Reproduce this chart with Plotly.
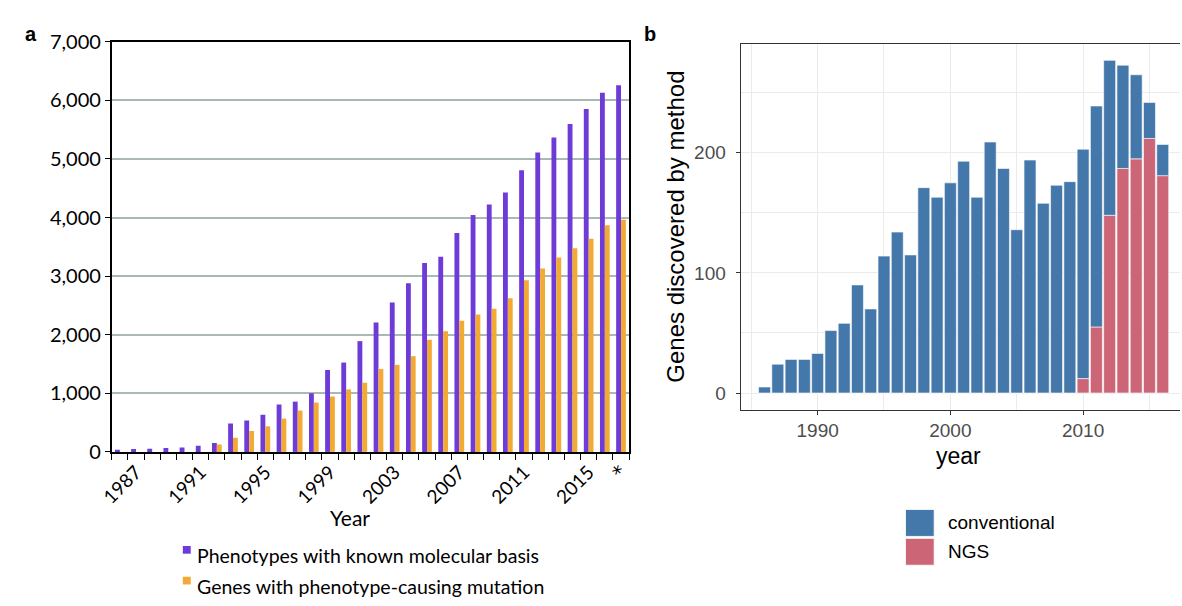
import plotly.graph_objects as go

# ---- panel a: cumulative OMIM counts per year ----
categories_a = [str(y) for y in range(1986, 2017)] + ["*"]
shown_labels_a = ["1987", "1991", "1995", "1999", "2003", "2007", "2011", "2015", "*"]
phenotypes = [38, 49, 55, 66, 77, 104, 153, 486, 536, 634, 809, 858, 1000, 1399,
              1525, 1891, 2208, 2552, 2880, 3224, 3333, 3738, 4044, 4224, 4426,
              4809, 5109, 5366, 5596, 5852, 6131, 6257]
genes = [0, 0, 0, 0, 0, 0, 126, 240, 355, 437, 568, 705, 842, 945, 1066, 1180,
         1415, 1486, 1634, 1913, 2060, 2240, 2344, 2443, 2623, 2929, 3131, 3317,
         3475, 3639, 3869, 3962]
y_ticks_a = [0, 1000, 2000, 3000, 4000, 5000, 6000, 7000]

# ---- panel b: genes discovered per year by method ----
years_b = list(range(1986, 2017))
conventional = [5, 24, 28, 28, 33, 52, 58, 90, 70, 114, 134, 115, 171, 163, 175,
                193, 163, 209, 187, 136, 194, 158, 173, 176, 191, 184, 129, 86,
                70, 30, 26]
ngs = [0, 0, 0, 0, 0, 0, 0, 0, 0, 0, 0, 0, 0, 0, 0, 0, 0, 0, 0, 0, 0, 0, 0, 0,
       12, 55, 148, 187, 195, 212, 181]

W, H = 1182, 606
PURPLE, ORANGE = "#6E3AD8", "#F2AA33"
BLUE, RED = "#4477AA", "#CC6677"
FONT_A = "Lato"
FONT_B = "Liberation Sans, Arial, sans-serif"


def px(x):
    return x / W


def py(y):
    return 1 - y / H


fig = go.Figure()

fig.add_trace(go.Bar(
    x=categories_a, y=phenotypes, name="Phenotypes with known molecular basis",
    marker=dict(color=PURPLE, line=dict(width=0)), width=0.3, offset=-0.3,
    xaxis="x", yaxis="y", showlegend=False))
fig.add_trace(go.Bar(
    x=categories_a, y=genes, name="Genes with phenotype-causing mutation",
    marker=dict(color=ORANGE, line=dict(width=0)), width=0.3, offset=0.0,
    xaxis="x", yaxis="y", showlegend=False))

fig.add_trace(go.Bar(
    x=years_b, y=ngs, name="NGS", base=0,
    marker=dict(color=RED, line=dict(color="white", width=0.6)), width=0.9,
    xaxis="x2", yaxis="y2", showlegend=False))
fig.add_trace(go.Bar(
    x=years_b, y=conventional, name="conventional", base=ngs,
    marker=dict(color=BLUE, line=dict(color="white", width=0.6)), width=0.9,
    xaxis="x2", yaxis="y2", showlegend=False))


def tick_label(c):
    if c not in shown_labels_a:
        return ""
    if c == "*":
        # the asterisk sits on the baseline in a plainer face
        return "<span style='font-family:DejaVu Sans;font-size:20px'>*</span>"
    return c


tick_text_a = [tick_label(c) for c in categories_a]

fig.update_layout(
    width=W, height=H, margin=dict(l=0, r=0, t=0, b=0),
    paper_bgcolor="white", plot_bgcolor="white",
    barmode="overlay",
    xaxis=dict(
        domain=[px(100), px(624)], type="category",
        categoryorder="array", categoryarray=categories_a,
        range=[-0.5, len(categories_a) - 0.5],
        tickmode="array", tickvals=categories_a, ticktext=tick_text_a,
        tickson="boundaries", ticks="outside", ticklen=6, tickwidth=1.3,
        tickcolor="black", tickangle=-45,
        tickfont=dict(family=FONT_A, size=19, color="black"),
        showline=True, linecolor="black", linewidth=1.6, mirror=True,
        showgrid=False, zeroline=False, anchor="y"),
    yaxis=dict(
        domain=[py(457), py(30)], range=[0, 7000],
        tickmode="array", tickvals=y_ticks_a, tickformat=",d",
        ticks="outside", ticklen=5, tickwidth=1.3, tickcolor="black",
        tickfont=dict(family=FONT_A, size=20, color="black"),
        showline=True, linecolor="black", linewidth=1.6, mirror=True,
        showgrid=True, gridcolor="#a9b9b6", gridwidth=1.5,
        zeroline=False, anchor="x"),
    xaxis2=dict(
        domain=[px(737), 1.0], range=[1984.2, 2017.3],
        tickmode="array", tickvals=[1990, 2000, 2010],
        ticks="outside", ticklen=4, tickwidth=1.1, tickcolor="#333333",
        tickfont=dict(family=FONT_B, size=19, color="#4d4d4d"),
        showline=True, linecolor="#333333", linewidth=1.1, mirror=True,
        showgrid=True, gridcolor="#ebebeb", gridwidth=1.2,
        minor=dict(tickmode="array", tickvals=[1985, 1995, 2005, 2015],
                   showgrid=True, gridcolor="#ebebeb", gridwidth=0.6),
        zeroline=False, anchor="y2"),
    yaxis2=dict(
        domain=[py(413), py(32)], range=[-13.85, 290.85],
        tickmode="array", tickvals=[0, 100, 200],
        ticks="outside", ticklen=4, tickwidth=1.1, tickcolor="#333333",
        ticklabelstandoff=6,
        tickfont=dict(family=FONT_B, size=19, color="#4d4d4d"),
        showline=True, linecolor="#333333", linewidth=1.1, mirror=False,
        showgrid=True, gridcolor="#ebebeb", gridwidth=1.2,
        minor=dict(tickmode="array", tickvals=[50, 150, 250],
                   showgrid=True, gridcolor="#ebebeb", gridwidth=0.6),
        zeroline=False, anchor="x2"),
)

annotations = [
    dict(text="<b>a</b>", x=px(18), y=py(22), font=dict(family=FONT_B, size=20)),
    dict(text="<b>b</b>", x=px(645), y=py(22), font=dict(family=FONT_B, size=20)),
    dict(text="Year", x=px(341), y=py(525), font=dict(family=FONT_A, size=21)),
    dict(text="year", x=px(958), y=py(461), font=dict(family=FONT_B, size=23)),
    dict(text="Genes discovered by method", x=px(671), y=py(222), textangle=-90,
         font=dict(family=FONT_B, size=24)),
]

# legend for panel a
legend_a = [(PURPLE, "Phenotypes with known molecular basis", 565),
            (ORANGE, "Genes with phenotype-causing mutation", 597)]
shapes = []
for color, label, yc in legend_a:
    shapes.append(dict(type="rect", xref="paper", yref="paper",
                       x0=px(172), x1=px(180), y0=py(yc - 2), y1=py(yc - 10),
                       fillcolor=color, line=dict(width=0)))
    annotations.append(dict(text=label, x=px(184), y=py(yc), xanchor="left",
                            font=dict(family=FONT_A, size=19.5)))

# legend for panel b
legend_b = [(BLUE, "conventional", 531), (RED, "NGS", 561)]
for color, label, yc in legend_b:
    shapes.append(dict(type="rect", xref="paper", yref="paper",
                       x0=px(904), x1=px(933), y0=py(yc + 14), y1=py(yc - 14),
                       fillcolor=color, line=dict(color="white", width=0.8)))
    annotations.append(dict(text=label, x=px(945), y=py(yc), xanchor="left",
                            font=dict(family=FONT_B, size=19)))

for a in annotations:
    a.setdefault("xanchor", "center")
    a.update(xref="paper", yref="paper", yanchor="middle", showarrow=False)
    a["font"].setdefault("color", "black")

fig.update_layout(annotations=annotations, shapes=shapes)

fig.write_html("out.html")
